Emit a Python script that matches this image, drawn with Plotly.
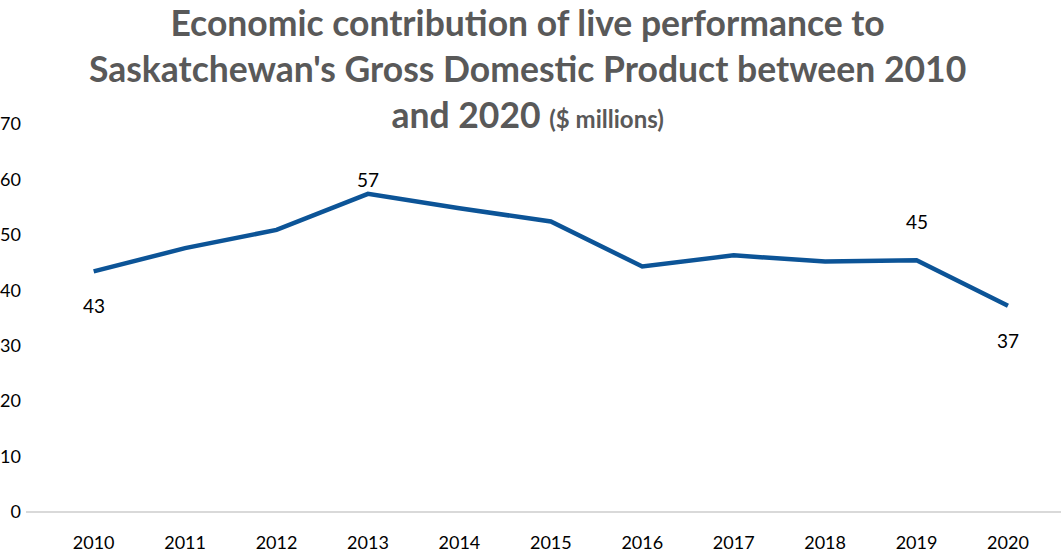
import plotly.graph_objects as go

# Live performance contribution to Saskatchewan GDP, $ millions
years = ["2010", "2011", "2012", "2013", "2014", "2015", "2016", "2017", "2018", "2019", "2020"]
gdp_millions = [43.4, 47.6, 50.9, 57.4, 54.8, 52.4, 44.3, 46.3, 45.2, 45.4, 37.2]

# Points that carry a value label, with where the label sits
labelled_years = ["2010", "2013", "2019", "2020"]
label_shift_px = [-34, 14, 39, -35]

y_ticks = [0, 10, 20, 30, 40, 50, 60, 70]

LINE_BLUE = "#0c5497"
TITLE_GREY = "#595959"
FONT = "Lato"

TOP, BOTTOM, HEIGHT = 124, 44, 556
plot_h = HEIGHT - TOP - BOTTOM

fig = go.Figure()

fig.add_trace(go.Scatter(
    x=years,
    y=gdp_millions,
    mode="lines",
    line=dict(color=LINE_BLUE, width=4.5),
    hoverinfo="x+y",
    showlegend=False,
))

for yr, shift in zip(labelled_years, label_shift_px):
    idx = years.index(yr)
    val = gdp_millions[idx]
    fig.add_annotation(
        x=idx, y=val, xref="x", yref="y", text=f"{round(val):d}",
        showarrow=False, yshift=shift,
        font=dict(family=FONT, size=19, color="#000000"),
    )

# Chart title, anchored to the top edge of the figure
fig.add_annotation(
    text=("<b>Economic contribution of live performance to<br>"
          "Saskatchewan's Gross Domestic Product between 2010<br>"
          "and 2020 <span style='font-size:24px'>($ millions)</span></b>"),
    x=0.4846, xref="paper", xanchor="center",
    y=1 + TOP / plot_h, yref="paper", yanchor="top",
    showarrow=False, align="center", borderpad=0,
    font=dict(family=FONT, size=35.5, color=TITLE_GREY),
)

fig.update_layout(
    width=1061, height=HEIGHT,
    margin=dict(l=23, r=0, t=TOP, b=BOTTOM),
    paper_bgcolor="white", plot_bgcolor="white",
    xaxis=dict(
        type="category", range=[-0.74, 10.58],
        showgrid=False, showline=False, zeroline=False,
        ticks="", tickfont=dict(family=FONT, size=18, color="#000000"),
        ticklabelstandoff=18,
    ),
    yaxis=dict(
        range=[0, 70], tickvals=y_ticks,
        showgrid=False, showline=False, zeroline=True,
        zerolinecolor="#d9d9d9", zerolinewidth=1.5,
        ticks="", tickfont=dict(family=FONT, size=18, color="#000000"),
        ticklabelstandoff=4,
    ),
)

fig.write_html("out.html")
